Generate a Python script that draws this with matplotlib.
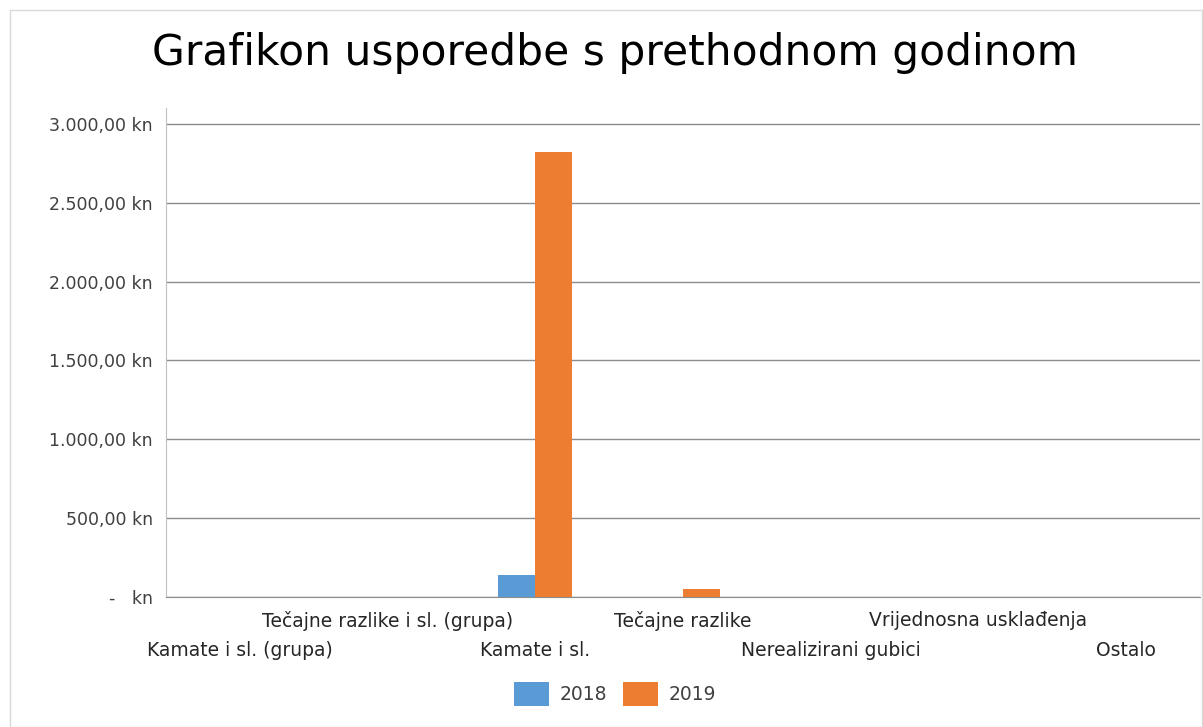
import matplotlib
matplotlib.use("Agg")
import matplotlib.pyplot as plt
from matplotlib.ticker import FuncFormatter, FixedLocator, FixedFormatter
from matplotlib.patches import Rectangle
import numpy as np

categories = ["Kamate i sl. (grupa)", "Tečajne razlike i sl. (grupa)", "Kamate i sl.",
              "Tečajne razlike", "Nerealizirani gubici", "Vrijednosna usklađenja", "Ostalo"]
values_2018 = [0, 0, 140, 0, 0, 0, 0]
values_2019 = [0, 0, 2822, 50, 0, 0, 0]
yticks = [0, 500, 1000, 1500, 2000, 2500, 3000]

plt.rcParams['font.family'] = ['DejaVu Sans']

fig = plt.figure(figsize=(12.03, 7.27), dpi=100)
fig.patches.append(Rectangle((10/1203, 0), 1 - 11/1203, 1 - 10/727, transform=fig.transFigure,
                             fill=False, edgecolor="#d9d9d9", linewidth=1))

ax = fig.add_axes([166/1203, 1 - 597/727, 1034/1203, (597 - 108)/727])
x = np.arange(len(categories))
w = 0.25
ax.bar(x - w/2, values_2018, w, color="#5B9BD5", label="2018", zorder=3)
ax.bar(x + w/2, values_2019, w, color="#ED7D31", label="2019", zorder=3)

ax.set_xlim(-0.5, len(categories) - 0.5)
ax.set_ylim(0, 3100)
ax.set_yticks(yticks)

def fmt(v, pos):
    if v == 0:
        return "-   kn"
    s = f"{v:,.2f}"
    s = s.replace(",", "X").replace(".", ",").replace("X", ".")
    return s + " kn"
ax.yaxis.set_major_formatter(FuncFormatter(fmt))
ax.grid(axis='y', which='major', color="#8c8c8c", linewidth=1, zorder=0)
for s in ["top", "right"]:
    ax.spines[s].set_visible(False)
ax.spines["left"].set_color("#bfbfbf")
ax.spines["bottom"].set_color("#8c8c8c")
ax.tick_params(axis='y', length=0, labelsize=12.5, labelcolor="#404040", pad=9.5)

# two rows of category labels: even indices on the lower row, odd on the upper row
even = x[::2]
odd = x[1::2]
ax.xaxis.set_major_locator(FixedLocator(even))
ax.xaxis.set_major_formatter(FixedFormatter([categories[i] for i in even]))
ax.xaxis.set_minor_locator(FixedLocator(odd))
ax.xaxis.set_minor_formatter(FixedFormatter([categories[i] for i in odd]))
ax.tick_params(axis='x', which='major', length=0, labelsize=13.5, labelcolor="#262626", pad=31.5)
ax.tick_params(axis='x', which='minor', length=0, labelsize=13.5, labelcolor="#262626", pad=10)

fig.text(615/1203, 1 - 53/727, "Grafikon usporedbe s prethodnom godinom", ha="center", va="center",
         fontsize=30.5, color="#000000")

ax.legend(loc="center", bbox_to_anchor=(615/1203, 1 - 694/727), bbox_transform=fig.transFigure,
          ncol=2, frameon=False, fontsize=13.5, handlelength=1.87, handleheight=1.6,
          columnspacing=0.8, handletextpad=0.6, labelcolor="#404040")

fig.savefig("out.png", dpi=100)
